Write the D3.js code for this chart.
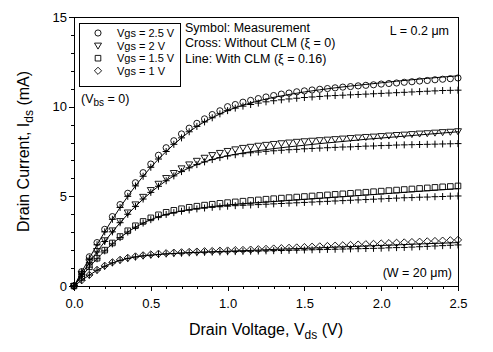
<!DOCTYPE html>
<html>
<head>
<meta charset="utf-8">
<script src="https://cdn.jsdelivr.net/npm/d3@7"></script>
<style>
body { margin: 0; background: #fff; }
text { font-family: "Liberation Sans", Arial, sans-serif; fill: #000; }
</style>
</head>
<body>
<svg id="chart" width="493" height="352"></svg>
<script>
// drain voltage of the measured / simulated points (V)
var vds = [0, 0.05, 0.1, 0.15, 0.2, 0.25, 0.3, 0.35, 0.4, 0.45, 0.5, 0.55, 0.6, 0.65, 0.7, 0.75, 0.8, 0.85, 0.9, 0.95,
           1.0, 1.05, 1.1, 1.15, 1.2, 1.25, 1.3, 1.35, 1.4, 1.45, 1.5, 1.55, 1.6, 1.65, 1.7, 1.75, 1.8, 1.85, 1.9, 1.95,
           2.0, 2.05, 2.1, 2.15, 2.2, 2.25, 2.3, 2.35, 2.4, 2.45, 2.5];
// drain voltage of the model line (with CLM)
var vModel = [0, 0.1, 0.2, 0.3, 0.4, 0.5, 0.6, 0.7, 0.8, 0.9, 1.0, 1.1, 1.2, 1.3, 1.4, 1.5, 1.6, 1.7, 1.8, 1.9,
              2.0, 2.1, 2.2, 2.3, 2.4, 2.5];

var gateVoltages = ["2.5", "2", "1.5", "1"];

// measurement (symbols), mA
var meas25 = [0, 0.8, 1.63, 2.42, 3.16, 3.87, 4.54, 5.17, 5.76, 6.32, 6.8, 7.29, 7.71, 8.1, 8.48, 8.8, 9.07, 9.32, 9.56, 9.77,
              10.0, 10.12, 10.25, 10.35, 10.45, 10.54, 10.62, 10.7, 10.76, 10.83, 10.88, 10.93, 10.97, 11.01, 11.05, 11.09, 11.12, 11.16, 11.19, 11.22,
              11.26, 11.29, 11.32, 11.36, 11.39, 11.43, 11.46, 11.5, 11.53, 11.56, 11.6];
var meas20 = [0, 0.68, 1.33, 1.95, 2.55, 3.1, 3.62, 4.1, 4.55, 4.97, 5.35, 5.7, 6.02, 6.3, 6.56, 6.78, 6.98, 7.15, 7.3, 7.42,
              7.53, 7.62, 7.7, 7.76, 7.82, 7.87, 7.92, 7.96, 8.0, 8.04, 8.07, 8.1, 8.13, 8.16, 8.19, 8.22, 8.25, 8.28, 8.31, 8.33,
              8.36, 8.39, 8.42, 8.44, 8.47, 8.5, 8.52, 8.55, 8.58, 8.6, 8.63];
var meas15 = [0, 0.55, 1.07, 1.55, 2.0, 2.4, 2.76, 3.08, 3.36, 3.6, 3.8, 3.97, 4.11, 4.22, 4.31, 4.39, 4.45, 4.51, 4.56, 4.61,
              4.65, 4.69, 4.73, 4.77, 4.8, 4.84, 4.87, 4.9, 4.93, 4.96, 4.99, 5.02, 5.05, 5.08, 5.11, 5.14, 5.17, 5.2, 5.23, 5.26,
              5.29, 5.32, 5.35, 5.38, 5.41, 5.44, 5.47, 5.5, 5.53, 5.55, 5.58];
var meas10 = [0, 0.32, 0.62, 0.9, 1.13, 1.32, 1.46, 1.57, 1.65, 1.71, 1.76, 1.8, 1.83, 1.86, 1.88, 1.9, 1.92, 1.94, 1.95, 1.97,
              1.98, 2.0, 2.01, 2.03, 2.05, 2.07, 2.09, 2.11, 2.13, 2.15, 2.17, 2.19, 2.21, 2.23, 2.25, 2.27, 2.29, 2.31, 2.33, 2.35,
              2.37, 2.39, 2.41, 2.43, 2.45, 2.47, 2.49, 2.51, 2.53, 2.55, 2.57];

// without CLM (crosses), mA
var cross25 = [0, 0.78, 1.55, 2.3, 3.02, 3.72, 4.38, 5.0, 5.58, 6.12, 6.62, 7.08, 7.5, 7.9, 8.26, 8.6, 8.9, 9.15, 9.38, 9.6,
               9.78, 9.92, 10.03, 10.12, 10.2, 10.27, 10.33, 10.38, 10.43, 10.47, 10.51, 10.54, 10.57, 10.6, 10.62, 10.64, 10.66, 10.68, 10.7, 10.72,
               10.74, 10.76, 10.78, 10.8, 10.82, 10.84, 10.86, 10.88, 10.9, 10.91, 10.92];
var cross20 = [0, 0.66, 1.3, 1.9, 2.48, 3.02, 3.53, 4.0, 4.44, 4.85, 5.22, 5.56, 5.87, 6.14, 6.38, 6.59, 6.77, 6.92, 7.05, 7.16,
               7.25, 7.32, 7.38, 7.43, 7.47, 7.51, 7.54, 7.57, 7.6, 7.62, 7.65, 7.67, 7.69, 7.71, 7.73, 7.75, 7.76, 7.78, 7.8, 7.81,
               7.83, 7.84, 7.86, 7.87, 7.88, 7.89, 7.9, 7.91, 7.92, 7.93, 7.94];
var cross15 = [0, 0.54, 1.05, 1.52, 1.96, 2.35, 2.7, 3.01, 3.28, 3.51, 3.7, 3.86, 3.99, 4.09, 4.17, 4.24, 4.3, 4.35, 4.39, 4.42,
               4.45, 4.48, 4.5, 4.52, 4.54, 4.56, 4.58, 4.6, 4.62, 4.64, 4.66, 4.68, 4.7, 4.72, 4.74, 4.76, 4.78, 4.8, 4.82, 4.84,
               4.86, 4.88, 4.9, 4.92, 4.93, 4.95, 4.96, 4.98, 4.99, 5.01, 5.02];
var cross10 = [0, 0.32, 0.61, 0.88, 1.1, 1.29, 1.43, 1.54, 1.62, 1.68, 1.72, 1.76, 1.79, 1.81, 1.83, 1.85, 1.86, 1.88, 1.89, 1.9,
               1.91, 1.92, 1.93, 1.94, 1.95, 1.96, 1.97, 1.98, 1.99, 2.0, 2.01, 2.02, 2.03, 2.04, 2.05, 2.06, 2.07, 2.08, 2.09, 2.1,
               2.11, 2.13, 2.14, 2.15, 2.17, 2.19, 2.21, 2.23, 2.25, 2.27, 2.29];

// with CLM (line), mA
var model25 = [0, 1.55, 3.02, 4.38, 5.58, 6.62, 7.5, 8.26, 8.9, 9.38, 9.78, 10.08, 10.32, 10.52, 10.68, 10.82, 10.94, 11.05, 11.15, 11.24,
               11.33, 11.42, 11.5, 11.58, 11.65, 11.72];
var model20 = [0, 1.3, 2.48, 3.53, 4.44, 5.22, 5.87, 6.38, 6.77, 7.05, 7.26, 7.42, 7.55, 7.66, 7.76, 7.85, 7.94, 8.02, 8.1, 8.18,
               8.25, 8.32, 8.39, 8.46, 8.53, 8.6];
var model15 = [0, 1.05, 1.96, 2.7, 3.28, 3.7, 3.99, 4.18, 4.32, 4.43, 4.52, 4.59, 4.65, 4.71, 4.77, 4.83, 4.89, 4.95, 5.01, 5.07,
               5.13, 5.19, 5.25, 5.31, 5.37, 5.43];
var model10 = [0, 0.61, 1.1, 1.43, 1.62, 1.72, 1.79, 1.84, 1.88, 1.91, 1.94, 1.97, 2.0, 2.04, 2.07, 2.1, 2.13, 2.17, 2.2, 2.23,
               2.26, 2.29, 2.33, 2.36, 2.39, 2.42];

var xMajor = [0, 0.5, 1.0, 1.5, 2.0, 2.5];
var xMinor = [0.1, 0.2, 0.3, 0.4, 0.6, 0.7, 0.8, 0.9, 1.1, 1.2, 1.3, 1.4, 1.6, 1.7, 1.8, 1.9, 2.1, 2.2, 2.3, 2.4];
var yMajor = [0, 5, 10, 15];
var yMinor = [1, 2, 3, 4, 6, 7, 8, 9, 11, 12, 13, 14];

var margin = {top: 17, right: 35, bottom: 66, left: 74};
var visWidth = 493 - margin.left - margin.right;
var visHeight = 352 - margin.top - margin.bottom;

var svg = d3.select("#chart");
var g = svg.append("g")
    .attr("transform", "translate(" + margin.left + "," + margin.top + ")");

var x = d3.scaleLinear().domain([0, 2.5]).range([0, visWidth]);
var y = d3.scaleLinear().domain([0, 15]).range([visHeight, 0]);

// symbol paths
var shapes = {
    "2.5": d3.symbol().type(d3.symbolCircle).size(30)(),
    "2": "M-3.5,-2.5L3.5,-2.5L0,3.5Z",
    "1.5": "M-2.8,-2.8H2.8V2.8H-2.8Z",
    "1": "M0,-3.6L3.6,0L0,3.6L-3.6,0Z"
};
var crossPath = "M-3.5,0H3.5M0,-3.5V3.5";

var meas = {"2.5": meas25, "2": meas20, "1.5": meas15, "1": meas10};
var cross = {"2.5": cross25, "2": cross20, "1.5": cross15, "1": cross10};
var model = {"2.5": model25, "2": model20, "1.5": model15, "1": model10};

// axes
var xAxis = g.append("g").attr("transform", "translate(0," + visHeight + ")")
    .call(d3.axisBottom(x).tickValues(xMajor).tickSize(5).tickPadding(8).tickFormat(d3.format(".1f")));
g.append("g").attr("transform", "translate(0," + visHeight + ")")
    .call(d3.axisBottom(x).tickValues(xMinor).tickSize(3).tickFormat(""));
var yAxis = g.append("g")
    .call(d3.axisLeft(y).tickValues(yMajor).tickSize(5).tickPadding(2));
g.append("g")
    .call(d3.axisLeft(y).tickValues(yMinor).tickSize(3).tickFormat(""));

g.selectAll(".domain").remove();
g.selectAll(".tick line").attr("stroke", "#000").attr("shape-rendering", "crispEdges");
g.selectAll(".tick text").style("font-size", "13px").attr("fill", "#000");

g.append("rect")
    .attr("x", 0.5).attr("y", 0.5)
    .attr("width", visWidth).attr("height", visHeight)
    .attr("fill", "none").attr("stroke", "#000")
    .attr("shape-rendering", "crispEdges");

// model lines
var line = d3.line()
    .x(function(d) { return x(d[0]); })
    .y(function(d) { return y(d[1]); })
    .curve(d3.curveMonotoneX);

gateVoltages.forEach(function(vg) {
    var pts = vModel.map(function(v, i) { return [v, model[vg][i]]; });
    g.append("path").datum(pts)
        .attr("d", line)
        .attr("fill", "none").attr("stroke", "#000").attr("stroke-width", 1);
});

// crosses
gateVoltages.forEach(function(vg) {
    g.selectAll(".cross" + vg.replace(".", ""))
        .data(vds.map(function(v, i) { return [v, cross[vg][i]]; }))
        .enter().append("path")
        .attr("transform", function(d) { return "translate(" + x(d[0]) + "," + y(d[1]) + ")"; })
        .attr("d", crossPath)
        .attr("fill", "none").attr("stroke", "#000").attr("stroke-width", 1);
});

// measured symbols
gateVoltages.forEach(function(vg) {
    g.selectAll(".meas" + vg.replace(".", ""))
        .data(vds.map(function(v, i) { return [v, meas[vg][i]]; }))
        .enter().append("path")
        .attr("transform", function(d) { return "translate(" + x(d[0]) + "," + y(d[1]) + ")"; })
        .attr("d", shapes[vg])
        .attr("fill", "none").attr("stroke", "#000").attr("stroke-width", 0.9);
});

// legend
var legend = svg.append("g");
legend.append("rect")
    .attr("x", 79.5).attr("y", 23.5).attr("width", 101).attr("height", 63)
    .attr("fill", "#fff").attr("stroke", "#000").attr("shape-rendering", "crispEdges");
gateVoltages.forEach(function(vg, i) {
    var cy = 33 + i * 12.6;
    legend.append("path")
        .attr("transform", "translate(98," + cy + ")")
        .attr("d", shapes[vg])
        .attr("fill", "none").attr("stroke", "#000").attr("stroke-width", 0.9);
    legend.append("text")
        .attr("x", 117).attr("y", cy + 4)
        .style("font-size", "11px")
        .text("Vgs = " + vg + " V");
});

// notes
var notes = ["Symbol: Measurement", "Cross: Without CLM (\u03BE = 0)", "Line: With CLM (\u03BE = 0.16)"];
notes.forEach(function(t, i) {
    svg.append("text")
        .attr("x", 185).attr("y", 32 + i * 15.3)
        .style("font-size", "12.5px")
        .text(t);
});
svg.append("text").attr("x", 449).attr("y", 35).attr("text-anchor", "end")
    .style("font-size", "12.5px").text("L = 0.2 \u03BCm");
svg.append("text").attr("x", 452).attr("y", 277).attr("text-anchor", "end")
    .style("font-size", "12.5px").text("(W = 20 \u03BCm)");

var vbs = svg.append("text").attr("x", 81).attr("y", 103).style("font-size", "12.5px");
vbs.append("tspan").text("(V");
vbs.append("tspan").attr("dy", 3).style("font-size", "10px").text("bs");
vbs.append("tspan").attr("dy", -3).text(" = 0)");

// axis titles
var xt = svg.append("text").attr("x", margin.left + visWidth / 2).attr("y", 335)
    .attr("text-anchor", "middle").style("font-size", "16px");
xt.append("tspan").text("Drain Voltage, V");
xt.append("tspan").attr("dy", 4).style("font-size", "12px").text("ds");
xt.append("tspan").attr("dy", -4).text(" (V)");

var yt = svg.append("text")
    .attr("transform", "translate(29," + (margin.top + visHeight / 2) + ") rotate(-90)")
    .attr("text-anchor", "middle").style("font-size", "16px");
yt.append("tspan").text("Drain Current, I");
yt.append("tspan").attr("dy", 4).style("font-size", "12px").text("ds");
yt.append("tspan").attr("dy", -4).text(" (mA)");
</script>
</body>
</html>
